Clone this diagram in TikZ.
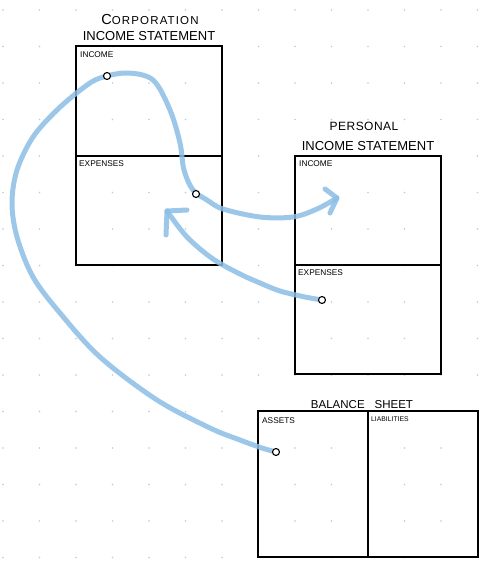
\documentclass[tikz,border=0pt]{standalone}
\usepackage{fontspec}
\setmainfont{Liberation Sans}
\definecolor{inkblue}{RGB}{140,190,230}
\definecolor{dotgray}{RGB}{200,200,200}
\tikzset{
  sheet/.style={draw=black, line width=1.8pt, line join=miter},
  lbl/.style={anchor=base west, inner sep=0pt, font=\fontsize{8.3}{9}\selectfont},
  ttl/.style={anchor=base, inner sep=0pt, font=\fontsize{13}{14}\selectfont},
  pin/.style={circle, draw=black, fill=white, line width=1.1pt, minimum size=7pt, inner sep=0pt},
  flow/.style={draw=inkblue, line width=5pt, opacity=0.85, line cap=round, line join=round},
}
\begin{document}
\begin{tikzpicture}[x=1pt, y=-1pt]
\useasboundingbox[fill=white] (0,0) rectangle (500,572);
% dot grid
\foreach \i in {0,...,13}{
  \foreach \j in {0,...,15}{
    \fill[dotgray] ({3+36.5*\i},{10+36.5*\j}) circle (0.9pt);
  }
}
% sheets
\draw[sheet] (76,46) rectangle (222,265);
\draw[sheet] (76,156) -- (222,156);
\draw[sheet] (295,156) rectangle (441,374);
\draw[sheet] (295,265) -- (441,265);
\draw[sheet] (258,411) rectangle (478,557);
\draw[sheet] (368,411) -- (368,557);
% titles
\node[ttl] (t1) at (150,25) {\addfontfeature{LetterSpace=10}{\fontsize{14.5}{15}\selectfont C}{\fontsize{11.5}{12}\selectfont ORPORATION}};
\node[ttl] (t2) at (149,41) {INCOME STATEMENT};
\node[ttl, font=\fontsize{12}{13}\selectfont] (t3) at (364,131) {\addfontfeature{LetterSpace=4}PERSONAL};
\node[ttl] (t4) at (368,150) {INCOME STATEMENT};
\node[ttl, font=\fontsize{11.5}{13}\selectfont] (t5) at (362,408) {BALANCE\hspace{10pt}SHEET};
% labels
\node[lbl] (l1) at (80,58) {INCOME};
\node[lbl] (l2) at (79,166) {EXPENSES};
\node[lbl] (l3) at (299,167) {INCOME};
\node[lbl] (l4) at (298,275) {EXPENSES};
\node[lbl] (l5) at (262,423) {ASSETS};
\node[lbl, font=\fontsize{6.8}{8}\selectfont] (l6) at (371,421) {LIABILITIES};
% pins (positions)
\coordinate (p1) at (107,76);
\coordinate (p2) at (196,194);
\coordinate (p3) at (322,300);
\coordinate (p4) at (276,452);
\coordinate (e1) at (337,198);
\coordinate (e2) at (167,211);
% flow 1: assets -> corporation -> personal income
\draw[flow] plot[smooth, tension=0.55] coordinates {
  (p4) (262,448) (240,440) (210,428) (157,400) (100,357) (60,313) (33,277)
  (17,237) (12,203) (17,170) (33,137) (57,110) (83,88) (100,78) (127,73)
  (153,80) (170,110) (180,143) (184,170) (193,190) (207,200) (223,209)
  (260,217) (293,217) (317,209) (e1)};
\draw[flow] (325,189) -- (e1) -- (330,213);
% flow 2: personal expenses -> corporation expenses
\draw[flow] plot[smooth, tension=0.55] coordinates {
  (p3) (305,297) (280,291) (260,283) (240,274) (213,259) (187,237) (e2)};
\draw[flow] (187,210) -- (e2) -- (166,235);
% pins
\node[pin] (c1) at (p1) {};
\node[pin] (c2) at (p2) {};
\node[pin] (c3) at (p3) {};
\node[pin] (c4) at (p4) {};
\end{tikzpicture}
\end{document}
